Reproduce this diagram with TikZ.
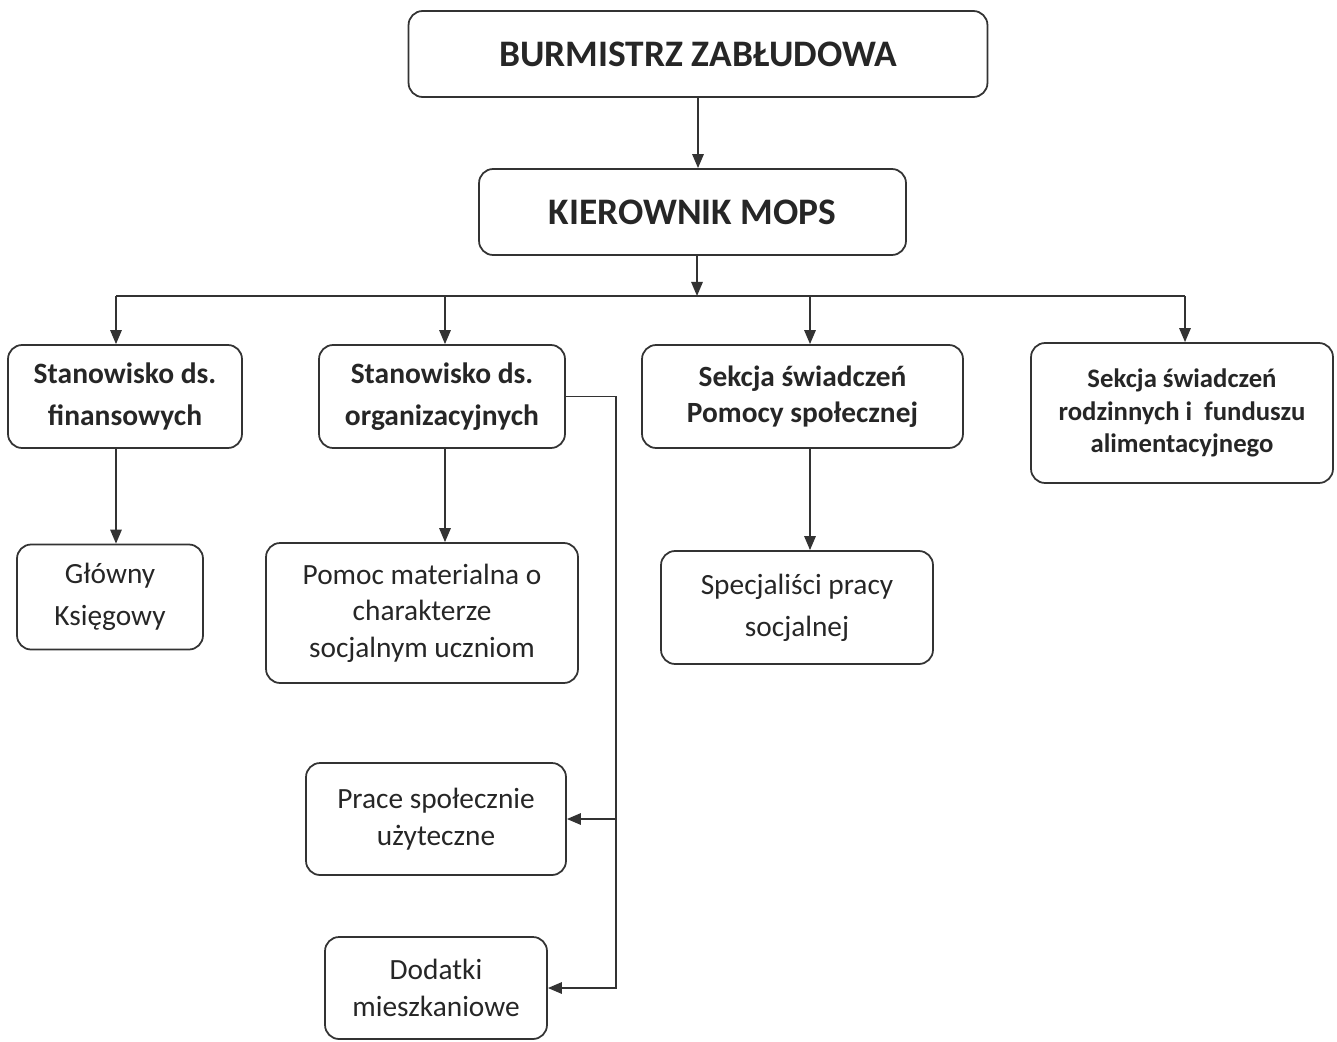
\documentclass[tikz,border=0pt]{standalone}
\usepackage{fontspec}
\setmainfont{Carlito}
\usetikzlibrary{arrows.meta, positioning}
\definecolor{LineGray}{HTML}{333333}
\definecolor{TextGray}{HTML}{262626}

\begin{document}
\begin{tikzpicture}[x=0.02cm, y=-0.02cm,
  head/.style={rectangle, rounded corners=8pt, draw=LineGray, line width=1pt,
    text=TextGray, align=center, inner sep=0pt,
    font=\fontsize{21.3}{24}\selectfont\bfseries},
  unit/.style={rectangle, rounded corners=8pt, draw=LineGray, line width=1pt,
    text=TextGray, align=center, inner sep=0pt,
    font=\fontsize{16.8}{23.8}\selectfont\bfseries},
  post/.style={rectangle, rounded corners=8pt, draw=LineGray, line width=1pt,
    text=TextGray, align=center, inner sep=0pt,
    font=\fontsize{16.7}{20.7}\selectfont},
  arrow/.style={-{Triangle[length=8pt,width=6.5pt]}, line width=1pt, color=LineGray},
  line/.style={line width=1pt, color=LineGray}
]
\useasboundingbox (0,0) rectangle (1337,1041);

%% Top — mayor + head of centre
\node[head, minimum width=11.58cm, minimum height=1.72cm] (burm) at (698,54) {BURMISTRZ ZABŁUDOWA};
\node[head, minimum width=8.54cm, minimum height=1.72cm] (kier) at (692.5,212) {KIEROWNIK MOPS};

%% Bus + drop points
\coordinate (bus) at (697,296);
\coordinate (d1) at (116,296);
\coordinate (d2) at (445,296);
\coordinate (d3) at (810,296);
\coordinate (d4) at (1185,296);

%% Middle row — units
\node[unit, minimum width=4.68cm, minimum height=2.06cm] (fin) at (125,396.5) {Stanowisko ds.\\finansowych};
\node[unit, minimum width=4.92cm, minimum height=2.06cm] (org) at (442,396.5) {Stanowisko ds.\\organizacyjnych};
\node[unit, minimum width=6.42cm, minimum height=2.06cm,
  font=\fontsize{16.7}{20.4}\selectfont\bfseries] (swp) at (802.5,396.5) {Sekcja świadczeń\\Pomocy społecznej};
\node[unit, minimum width=6.04cm, minimum height=2.8cm,
  font=\fontsize{15.2}{18.7}\selectfont\bfseries] (swr) at (1182,413) {Sekcja świadczeń\\rodzinnych i\ \ funduszu\\alimentacyjnego};

%% Lower rows — posts
\node[post, minimum width=3.72cm, minimum height=2.1cm,
  font=\fontsize{16.7}{23.8}\selectfont] (ksieg) at (110,597) {Główny\\Księgowy};
\node[post, minimum width=6.24cm, minimum height=2.8cm] (pomoc) at (422,613) {Pomoc materialna o\\charakterze\\socjalnym uczniom};
\node[post, minimum width=5.44cm, minimum height=2.26cm,
  font=\fontsize{16.7}{23.8}\selectfont] (spec) at (797,607.5) {Specjaliści pracy\\socjalnej};
\node[post, minimum width=5.2cm, minimum height=2.24cm] (prace) at (436,819) {Prace społecznie\\użyteczne};
\node[post, minimum width=4.44cm, minimum height=2.04cm] (dod) at (436,988) {Dodatki\\mieszkaniowe};

\coordinate (side) at (616,396.5);

%% Arrows
\draw[arrow] (burm.south) -- (kier.north -| burm.south);
\draw[arrow] (kier.south -| bus) -- (bus);
\draw[line] (d1) -- (d4);
\draw[arrow] (d1) -- (d1 |- fin.north);
\draw[arrow] (d2) -- (d2 |- org.north);
\draw[arrow] (d3) -- (d3 |- swp.north);
\draw[arrow] (d4) -- (d4 |- swr.north);
\draw[arrow] (d1 |- fin.south) -- (d1 |- ksieg.north);
\draw[arrow] (d2 |- org.south) -- (d2 |- pomoc.north);
\draw[arrow] (d3 |- swp.south) -- (d3 |- spec.north);
\draw[arrow] (org.east) -- (side) -- (side |- dod.east) -- (dod.east);
\draw[arrow] (side |- prace.east) -- (prace.east);

\end{tikzpicture}
\end{document}
